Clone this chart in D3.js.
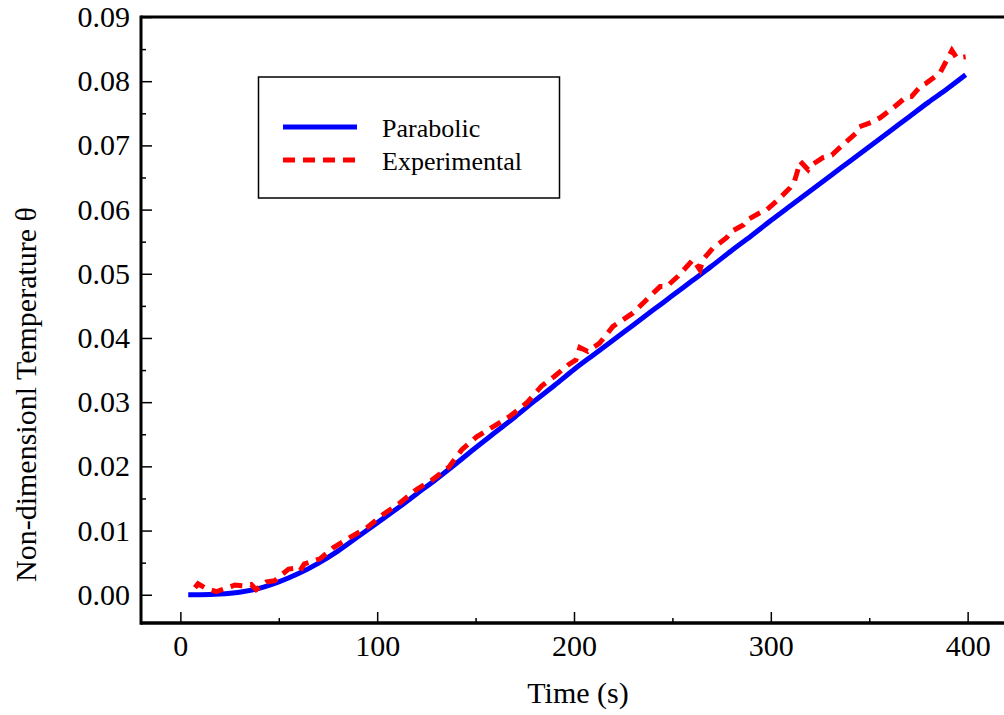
<!DOCTYPE html>
<html>
<head>
<meta charset="utf-8">
<script src="https://cdn.jsdelivr.net/npm/d3@7"></script>
<style>
  html, body { margin: 0; padding: 0; background: #fff; }
  svg { display: block; }
  text { font-family: "Liberation Serif", "Times New Roman", serif; fill: #000; }
</style>
</head>
<body>
<svg id="chart" width="1004" height="715"></svg>
<script>
// ---- Data ----
const parabolicTime = [4, 10, 20, 30, 40, 50, 60, 70, 80, 90, 100, 110, 120, 130, 140, 150, 160, 170, 180, 190, 200,
  210, 220, 230, 240, 250, 260, 270, 280, 290, 300, 310, 320, 330, 340, 350, 360, 370, 380, 390, 399];
const parabolicTheta = [0, 0, 0.0001, 0.0004, 0.0010, 0.0020, 0.0033, 0.0049, 0.0068, 0.0090, 0.0112, 0.0134, 0.0157,
  0.0180, 0.0204, 0.0229, 0.0253, 0.0277, 0.0302, 0.0326, 0.0351, 0.0374, 0.0397, 0.0420, 0.0443, 0.0466, 0.0489,
  0.0512, 0.0536, 0.0559, 0.0583, 0.0606, 0.0629, 0.0652, 0.0675, 0.0698, 0.0721, 0.0744, 0.0767, 0.0789, 0.0810];

const experimentalTime = [7.4, 9, 13, 18.4, 23, 27.7, 32, 36, 38.5, 43.8, 48, 51.4, 55, 58, 60.7, 63, 66, 70.9, 77.6,
  86, 94.6, 103, 111.5, 120, 128, 136.5, 143, 150.5, 159, 167.4, 176, 183.5, 190, 197, 201, 203, 207, 213, 219.8,
  230, 237, 243.7, 247, 252.8, 260.5, 264, 265.5, 270.6, 277.5, 280, 286, 288, 294.5, 298, 303.6, 309.8, 312, 315,
  319, 321, 326.5, 331, 336.6, 343.6, 345, 352, 355.5, 362, 369, 371.5, 376, 379, 386, 392, 394.5, 399];
const experimentalTheta = [0.0011, 0.0017, 0.0010, 0.0005, 0.0010, 0.0015, 0.0014, 0.0016, 0.0008, 0.0020, 0.0022,
  0.0031, 0.0040, 0.0041, 0.0037, 0.0048, 0.0051, 0.0056, 0.0073, 0.0089, 0.0104, 0.0125, 0.0143, 0.0164, 0.0179,
  0.0199, 0.0226, 0.0246, 0.0262, 0.0278, 0.0299, 0.0325, 0.0340, 0.0358, 0.0366, 0.0385, 0.0379, 0.0392, 0.0418,
  0.0439, 0.0460, 0.0480, 0.0480, 0.0496, 0.0522, 0.0506, 0.0522, 0.0540, 0.0556, 0.0566, 0.0576, 0.0584, 0.0595,
  0.0600, 0.0615, 0.0634, 0.0644, 0.0675, 0.0662, 0.0670, 0.0681, 0.0685, 0.0701, 0.0720, 0.0729, 0.0737, 0.0743,
  0.0758, 0.0776, 0.0776, 0.0792, 0.0797, 0.0813, 0.0848, 0.0836, 0.0838];

const xMajorTicks = [0, 100, 200, 300, 400];
const xMinorTicks = [50, 150, 250, 350];
const yMajorTicks = [0, 0.01, 0.02, 0.03, 0.04, 0.05, 0.06, 0.07, 0.08, 0.09];
const yMinorTicks = [0.005, 0.015, 0.025, 0.035, 0.045, 0.055, 0.065, 0.075, 0.085];
const seriesNames = ["Parabolic", "Experimental"];
const xTitle = "Time (s)";
const yTitle = "Non-dimensionl Temperature  \u03B8";

// ---- Layout ----
const svg = d3.select("#chart");
const plotLeft = 141, plotRight = 1007, plotTop = 17, plotBottom = 623;
const x = d3.scaleLinear().domain([-20, 420]).range([plotLeft, plotRight]);
const y = d3.scaleLinear().domain([-0.0044, 0.09]).range([plotBottom, plotTop]);
const tickFont = 30, titleFont = 30, legendFont = 26;
const serif = '"Liberation Serif", "Times New Roman", serif';

// ---- Lines ----
const parabolic = parabolicTime.map((t, i) => ({ t, v: parabolicTheta[i] }));
const experimental = experimentalTime.map((t, i) => ({ t, v: experimentalTheta[i] }));
const smoothLine = d3.line().x(d => x(d.t)).y(d => y(d.v)).curve(d3.curveMonotoneX);
const line = d3.line().x(d => x(d.t)).y(d => y(d.v));

svg.append("path").datum(parabolic)
  .attr("d", smoothLine).attr("fill", "none")
  .attr("stroke", "#0000ff").attr("stroke-width", 5);
svg.append("path").datum(experimental)
  .attr("d", line).attr("fill", "none")
  .attr("stroke", "#ff0000").attr("stroke-width", 5)
  .attr("stroke-dasharray", "12 8");

// ---- Axes ----
const xAxis = d3.axisBottom(x).tickValues(xMajorTicks).tickSize(-11).tickPadding(12)
  .tickFormat(d3.format("d"));
const gx = svg.append("g").attr("transform", `translate(0,${plotBottom})`).call(xAxis);
gx.select(".domain").remove();
gx.selectAll(".tick line").attr("stroke", "#000").attr("stroke-width", 1.5);
gx.selectAll(".tick text").attr("font-size", tickFont).style("font-family", serif).attr("fill", "#000");
const gxm = svg.append("g").attr("transform", `translate(0,${plotBottom})`)
  .call(d3.axisBottom(x).tickValues(xMinorTicks).tickSize(-5).tickFormat(""));
gxm.select(".domain").remove();
gxm.selectAll(".tick line").attr("stroke", "#000").attr("stroke-width", 1.5);

const yAxis = d3.axisLeft(y).tickValues(yMajorTicks).tickSize(-11).tickPadding(11)
  .tickFormat(d3.format(".2f"));
const gy = svg.append("g").attr("transform", `translate(${plotLeft},0)`).call(yAxis);
gy.select(".domain").remove();
gy.selectAll(".tick line").attr("stroke", "#000").attr("stroke-width", 1.5);
gy.selectAll(".tick text").attr("font-size", tickFont).style("font-family", serif).attr("fill", "#000");
const gym = svg.append("g").attr("transform", `translate(${plotLeft},0)`)
  .call(d3.axisLeft(y).tickValues(yMinorTicks).tickSize(-5).tickFormat(""));
gym.select(".domain").remove();
gym.selectAll(".tick line").attr("stroke", "#000").attr("stroke-width", 1.5);

// Frame lines: left, top, bottom (right side falls outside the window)
svg.append("line").attr("x1", plotLeft).attr("x2", plotLeft).attr("y1", plotTop - 1.5).attr("y2", plotBottom + 1.75)
  .attr("stroke", "#000").attr("stroke-width", 3);
svg.append("line").attr("x1", plotLeft).attr("x2", 1004).attr("y1", plotTop).attr("y2", plotTop)
  .attr("stroke", "#000").attr("stroke-width", 3);
svg.append("line").attr("x1", plotLeft).attr("x2", 1004).attr("y1", plotBottom).attr("y2", plotBottom)
  .attr("stroke", "#000").attr("stroke-width", 3.5);

// ---- Titles ----
svg.append("text").attr("x", 578).attr("y", 703).attr("text-anchor", "middle")
  .attr("font-size", titleFont).text(xTitle);
svg.append("text").attr("transform", "translate(36,582) rotate(-90)").attr("text-anchor", "start")
  .attr("font-size", titleFont).text(yTitle);

// ---- Legend ----
const lg = svg.append("g");
lg.append("rect").attr("x", 258.5).attr("y", 77).attr("width", 301).attr("height", 121)
  .attr("fill", "#fff").attr("stroke", "#000").attr("stroke-width", 1.5);
const legendRows = [
  { name: seriesNames[0], color: "#0000ff", dash: null, yy: 127 },
  { name: seriesNames[1], color: "#ff0000", dash: "12 8", yy: 160 }
];
legendRows.forEach(r => {
  lg.append("line").attr("x1", 283).attr("x2", 357).attr("y1", r.yy).attr("y2", r.yy)
    .attr("stroke", r.color).attr("stroke-width", 5)
    .attr("stroke-dasharray", r.dash);
  lg.append("text").attr("x", 382).attr("y", r.yy + 10).attr("font-size", legendFont).text(r.name);
});
</script>
</body>
</html>
